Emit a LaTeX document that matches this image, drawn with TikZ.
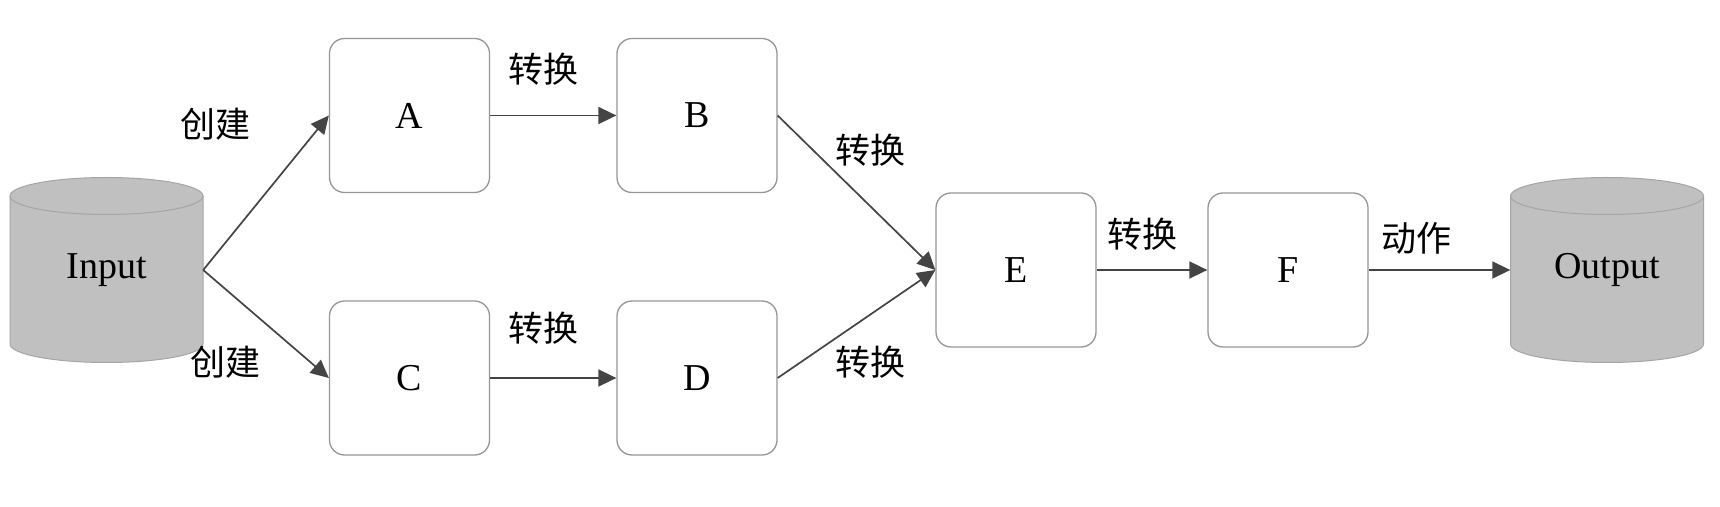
\documentclass[tikz,border=0pt]{standalone}
\usepackage{fontspec}
\setmainfont{Liberation Serif}
\newfontfamily\cjk{Noto Sans CJK SC}
\usetikzlibrary{arrows.meta}
\definecolor{boxgray}{RGB}{150,150,150}
\definecolor{arrowgray}{RGB}{68,68,68}
\definecolor{cylfill}{RGB}{192,192,192}
\definecolor{cylborder}{RGB}{165,165,165}
\begin{document}
\begin{tikzpicture}[x=1pt,y=1pt,
  box/.style={draw=boxgray, line width=1.3pt, rounded corners=15pt,
    minimum width=160pt, minimum height=154pt, fill=white,
    font=\fontsize{38}{40}\selectfont},
  conn/.style={draw=arrowgray, line width=1.7pt,
    -{Triangle[length=18pt,width=17pt]}},
  lbl/.style={font=\cjk\fontsize{35}{40}\selectfont, text=black, inner sep=0pt},
  cyltext/.style={minimum width=193pt, minimum height=148pt, inner sep=0pt,
    font=\fontsize{38}{40}\selectfont},
  dbcyl/.pic={
    \draw[draw=cylborder, line width=1pt, fill=cylfill]
      (-96.5,74) -- (-96.5,-74)
      arc[start angle=180,end angle=360,x radius=96.5,y radius=18.5]
      -- (96.5,74)
      arc[start angle=0,end angle=180,x radius=96.5,y radius=18.5] -- cycle;
    \draw[draw=cylborder, line width=1pt]
      (-96.5,74) arc[start angle=180,end angle=360,x radius=96.5,y radius=18.5];
  }
]
\useasboundingbox[fill=white] (0,0) rectangle (1720,506);

% cylinders
\pic at (106.5,236) {dbcyl};
\node[cyltext] (in) at (106.5,236) {\raisebox{-3pt}{Input}};
\pic at (1607,236) {dbcyl};
\node[cyltext] (out) at (1607,236) {\raisebox{-3pt}{Output}};

% boxes
\node[box] (A) at (409.5,390.5) {A};
\node[box] (B) at (697,390.5) {B};
\node[box] (C) at (409.5,128) {C};
\node[box] (D) at (697,128) {D};
\node[box] (E) at (1016,236) {E};
\node[box] (F) at (1288,236) {F};

% connectors
\draw[conn] (in.east) -- (A.west);
\draw[conn] (in.east) -- (C.west);
\draw[conn] (A.east) -- (B.west);
\draw[conn] (C.east) -- (D.west);
\draw[conn] (B.east) -- (E.west);
\draw[conn] (D.east) -- (E.west);
\draw[conn] (E.east) -- (F.west);
\draw[conn] (F.east) -- (out.west);

% labels
\node[lbl] (l1) at (215,382) {创建};
\node[lbl] (l2) at (225,144) {创建};
\node[lbl] (l3) at (543,437) {转换};
\node[lbl] (l4) at (543,178) {转换};
\node[lbl] (l5) at (870,356) {转换};
\node[lbl] (l6) at (870,144) {转换};
\node[lbl] (l7) at (1142,272) {转换};
\node[lbl] (l8) at (1416,268) {动作};
\end{tikzpicture}
\end{document}
